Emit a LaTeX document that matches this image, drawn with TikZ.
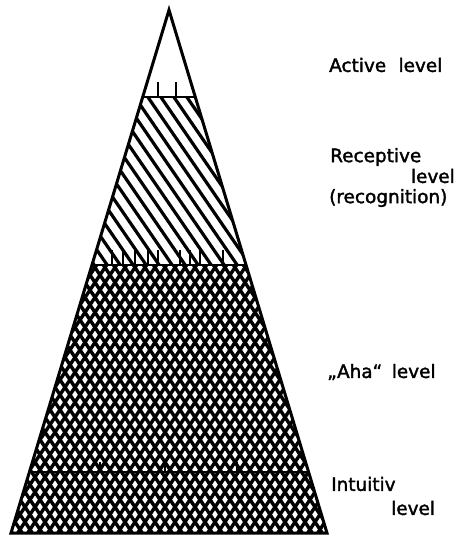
\documentclass[tikz,border=0pt]{standalone}
\usepackage{fontspec}
\setmainfont{DejaVu Sans}
\newfontfamily\levelfont{DejaVu Sans}[FakeBold=1.8]
\usetikzlibrary{calc}

\begin{document}
\begin{tikzpicture}[x=1bp, y=-1bp,
            outline/.style={black, line width=3bp, line join=miter},
            level/.style={black, line width=2.6bp},
            hatch/.style={black, line width=3.2bp},
            cross/.style={black, line width=3.4bp},
            tick/.style={black, line width=1.6bp},
            label/.style={anchor=west, inner sep=0pt, font=\levelfont\fontsize{18.5}{21}\selectfont}]
            \useasboundingbox (0,0) rectangle (466,536);
            \coordinate (apex) at (169,10);
            \coordinate (bl) at (11,533);
            \coordinate (br) at (327,533);
            % level boundaries
            \coordinate (al) at ($(apex)!0.1663!(bl)$);
            \coordinate (ar) at ($(apex)!0.1663!(br)$);
            \coordinate (rl) at ($(apex)!0.4876!(bl)$);
            \coordinate (rr) at ($(apex)!0.4876!(br)$);
            \coordinate (il) at ($(apex)!0.8834!(bl)$);
            \coordinate (ir) at ($(apex)!0.8834!(br)$);
            % receptive level hatching
            \begin{scope}
                \clip (al) -- (ar) -- (rr) -- (rl) -- cycle;
                \foreach \i in {-4,...,22}
                    \draw[hatch] (\i*13,90) -- ++(125,182);
            \end{scope}
            % aha and intuitive level cross hatching
            \begin{scope}
                \clip (rl) -- (rr) -- (br) -- (bl) -- cycle;
                \foreach \x in {-200,-190,...,530} {
                    \draw[cross] (\x,260) -- ++(185,277);
                    \draw[cross] (\x,260) -- ++(-185,277);
                }
            \end{scope}
            \draw[level] (al) -- (ar);
            \draw[level] (rl) -- (rr);
            \draw[level] (il) -- (ir);
            \foreach \x in {158,176}
                \draw[tick] (\x,97) -- (\x,82);
            \foreach \x in {112,123,135,148,158,180,190,200,223}
                \draw[tick] (\x,265) -- (\x,250);
            \foreach \x in {100,165,237}
                \draw[tick] (\x,472) -- (\x,462);
            \draw[outline] (apex) -- (br) -- (bl) -- cycle;
            % labels
            \node[label] (active) at (329,65) {Active\hspace{0.35em} level};
            \node[label] (recep) at (330,157) {Receptive};
            \node[label, anchor=east] (recepl) at (455,176) {level};
            \node[label] (recog) at (329,198) {(recognition)};
            \node[label] (aha) at (327,372) {„Aha“\hspace{0.2em} level};
            \node[label] (intu) at (331,484) {Intuitiv};
            \node[label] (intul) at (391,508) {level};
        \end{tikzpicture}
\end{document}
